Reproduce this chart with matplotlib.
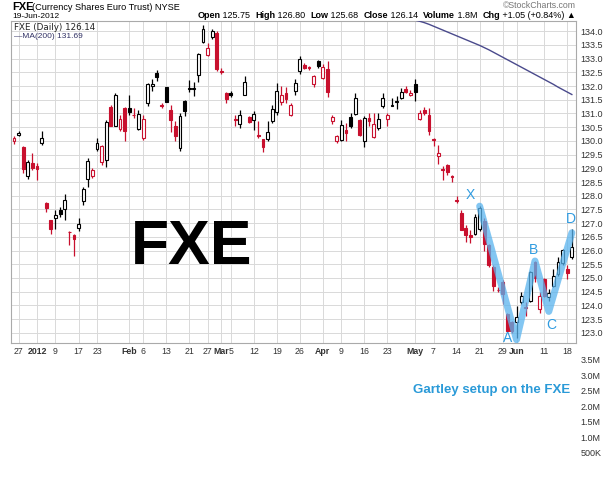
import numpy as np
import pandas as pd
import matplotlib
matplotlib.use("Agg")
import matplotlib.pyplot as plt

plt.rcParams['font.family'] = ['Liberation Sans', 'DejaVu Sans']

holidays = ["2011-12-26", "2012-01-02", "2012-01-16", "2012-02-20", "2012-04-06", "2012-05-28"]
dates = [d for d in pd.bdate_range("2011-12-23", "2012-06-19") if d.strftime("%Y-%m-%d") not in holidays]

opens = [130.0,130.2,129.76,128.73,129.2,129.1,129.94,127.72,127.1,127.2,127.47,127.53,126.68,126.58,126.84,127.82,128.6,128.73,129.71,129.24,
         129.3,131.24,130.55,130.43,131.2,131.2,130.93,130.43,130.1,131.38,132.0,132.49,131.3,131.96,131.14,130.55,129.73,131.45,131.9,131.88,
         132.39,133.61,133.13,133.77,133.95,132.54,131.73,131.75,130.78,130.61,131.69,130.86,130.75,130.2,130.06,130.06,130.71,131.04,131.41,131.75,
         130.96,131.81,132.55,132.77,132.68,132.09,132.91,132.3,132.63,130.71,129.98,130.04,130.4,130.87,130.99,130.77,129.98,130.82,130.14,130.47,
         131.26,130.8,131.28,131.42,131.57,131.9,131.69,132.08,130.8,131.12,130.96,130.04,129.46,128.94,129.12,128.7,127.82,127.37,126.84,126.56,
         126.62,126.8,127.08,126.19,125.39,124.56,124.84,123.68,123.38,123.38,124.11,123.92,124.17,125.6,123.87,124.97,124.29,124.72,125.15,125.54,
         125.33,125.75]
highs = [130.16,130.35,129.8,129.3,129.55,129.2,130.35,127.78,127.1,127.47,127.6,128.08,126.73,126.6,127.17,128.33,129.37,129.0,130.1,129.86,
         130.77,131.32,131.73,130.96,131.24,131.69,131.2,131.14,130.96,132.12,132.24,132.6,131.38,131.96,131.32,130.71,131.02,131.5,132.22,132.14,
         133.22,134.22,133.58,134.07,134.01,132.67,131.78,131.81,130.96,131.14,132.36,130.92,131.08,130.71,130.06,130.71,131.32,132.11,131.99,131.97,
         131.38,132.24,133.1,132.83,132.72,132.39,132.94,132.79,132.91,130.96,130.22,130.77,130.65,131.02,131.75,130.8,130.9,131.02,131.02,131.02,
         131.75,131.02,131.57,131.63,131.93,132.0,131.87,132.24,131.14,131.23,131.2,130.1,129.86,129.09,129.16,128.75,128.0,127.47,126.92,126.74,
         127.35,127.62,127.17,126.25,125.46,124.66,124.93,123.74,123.44,123.99,124.48,124.11,125.27,125.62,124.48,125.0,124.6,125.33,125.76,126.07,
         125.46,126.8]
lows = [129.9,130.17,128.82,128.6,128.94,128.57,129.85,127.4,126.6,126.8,127.23,127.13,126.19,125.82,126.7,127.66,128.33,128.63,129.64,129.12,
        129.06,130.53,130.53,130.37,129.98,130.96,130.83,130.41,130.04,131.26,131.81,132.18,131.2,131.42,130.34,129.98,129.64,130.9,131.77,131.65,
        132.14,133.58,133.09,133.71,132.55,132.42,131.38,131.6,130.53,130.47,131.69,130.65,130.41,130.1,129.61,129.98,130.65,130.96,131.32,131.38,
        130.9,131.69,132.42,132.63,132.6,131.97,132.67,132.24,131.6,130.63,129.94,129.98,129.98,130.47,130.96,130.19,129.77,130.53,130.09,130.4,
        131.2,130.53,131.26,131.16,131.53,131.75,131.65,131.45,130.75,130.96,130.22,129.82,129.16,128.57,128.76,128.5,127.72,126.74,126.31,126.27,
        126.56,126.7,126.0,125.4,124.54,124.48,124.05,123.05,123.0,122.83,124.05,123.62,124.11,124.85,123.71,124.3,124.15,124.66,125.09,125.46,
        124.97,125.68]
closes = [130.1,130.3,128.97,129.24,129.02,128.98,130.1,127.57,126.8,127.28,127.32,127.86,126.66,126.41,126.96,128.23,129.27,128.92,129.92,129.83,
          130.69,130.55,131.69,130.8,130.37,131.04,130.93,130.99,130.8,132.06,132.08,132.33,131.28,131.42,130.77,130.16,130.92,131.1,131.91,131.92,
          133.18,134.07,133.4,134.01,132.63,132.52,131.51,131.66,130.77,130.93,132.14,130.67,130.99,130.18,129.77,130.34,131.16,131.81,131.69,131.54,
          131.32,132.12,133.0,132.67,132.66,132.36,132.73,132.7,131.77,130.87,130.16,130.59,130.3,130.53,131.57,130.22,130.83,130.71,130.63,130.78,
          131.57,130.96,131.3,131.44,131.79,131.78,131.75,131.79,131.02,131.0,130.35,130.03,129.55,128.93,128.88,128.68,127.8,126.76,126.56,126.5,
          127.23,127.55,126.25,125.46,124.72,124.55,124.42,123.07,123.05,123.56,124.36,123.93,125.21,125.0,124.36,124.35,124.47,125.09,125.58,126.03,
          125.17,126.14]

ma_start = 85
ma200 = [134.5,134.45,134.4,134.36,134.31,134.25,134.18,134.11,134.04,133.97,133.9,133.83,133.76,133.69,133.62,133.55,133.48,
         133.4,133.32,133.23,133.14,133.05,132.96,132.87,132.78,132.69,132.6,132.51,132.42,132.33,132.24,132.15,132.06,131.96,131.87,
         131.78,131.69]

gartley_labels = ["X", "A", "B", "C", "D"]
gartley_dates = ["2012-05-21", "2012-06-01", "2012-06-07", "2012-06-12", "2012-06-19"]
gartley_prices = [127.62, 122.75, 125.62, 123.78, 126.65]

tick_dates = ["2011-12-27","2012-01-03","2012-01-09","2012-01-17","2012-01-23","2012-02-01","2012-02-06","2012-02-13",
              "2012-02-21","2012-02-27","2012-03-01","2012-03-05","2012-03-12","2012-03-19","2012-03-26","2012-04-02",
              "2012-04-09","2012-04-16","2012-04-23","2012-05-01","2012-05-07","2012-05-14","2012-05-21","2012-05-29",
              "2012-06-01","2012-06-11","2012-06-18"]
tick_labels = ["27","2012","9","17","23","Feb","6","13","21","27","Mar","5","12","19","26","Apr","9","16","23","May","7",
               "14","21","29","Jun","11","18"]
bold_ticks = {"2012","Feb","Mar","Apr","May","Jun"}

price_ticks = np.arange(123.0, 134.01, 0.5)
vol_ticks = [0.5e6, 1.0e6, 1.5e6, 2.0e6, 2.5e6, 3.0e6, 3.5e6]
vol_labels = ["500K", "1.0M", "1.5M", "2.0M", "2.5M", "3.0M", "3.5M"]

date_idx = {d.strftime("%Y-%m-%d"): i for i, d in enumerate(dates)}
n = len(opens)

W, H = 610, 480
fig = plt.figure(figsize=(6.1, 4.8), dpi=100)

vax = fig.add_axes([11 / W, 1 - 468 / H, (576 - 11) / W, (468 - 355) / H])
vax.patch.set_visible(False)
vax.set_xlim(-0.65, 121.9)
vax.set_ylim(0, 3.65e6)
vax.set_xticks([])
vax.set_yticks(vol_ticks)
vax.set_yticklabels(vol_labels, fontsize=6.5, color="#333333")
vax.yaxis.tick_right()
vax.tick_params(length=0, pad=3)
for s in vax.spines.values():
    s.set_visible(False)
vax.text(0.85, 0.69, "Gartley setup on the FXE", transform=vax.transAxes, fontsize=9.5, fontweight="bold",
         color="#2a9ad8", ha="center", va="center")

ax = fig.add_axes([11 / W, 1 - 343 / H, (576 - 11) / W, (343 - 21) / H])
ax.set_xlim(-0.65, 121.9)
ax.set_ylim(122.63, 134.37)

RED = "#c8102e"
for i in range(n):
    o, h, l, c = opens[i], highs[i], lows[i], closes[i]
    prev = closes[i - 1] if i > 0 else c + 1
    col = RED if c < prev else "black"
    hollow = c >= o
    ax.vlines(i, l, h, color=col, lw=0.9, zorder=3)
    bot = min(o, c)
    hgt = max(abs(c - o), 0.03)
    ax.bar(i, hgt, bottom=bot, width=0.62, facecolor="white" if hollow else col,
           edgecolor=col, lw=0.8, zorder=4)

ax.plot(np.arange(ma_start, ma_start + len(ma200)), ma200, color="#4a4a8c", lw=1.0, zorder=5)

gx = [date_idx[d] for d in gartley_dates]
ax.plot(gx, gartley_prices, color="#5ab4ee", lw=5, alpha=0.75, zorder=6, solid_capstyle="round", solid_joinstyle="round")
offs = {"X": (-2.0, 0.4), "A": (-1.9, 0.05), "B": (-0.4, 0.4), "C": (0.5, -0.5), "D": (-0.3, 0.5)}
for lab, gxi, gp in zip(gartley_labels, gx, gartley_prices):
    dx, dy = offs[lab]
    ax.text(gxi + dx, gp + dy, lab, color="#2f9be0", fontsize=10, ha="center", va="center", zorder=7)

ax.text(38.6, 126.1, "FXE", fontsize=45, fontweight="bold", ha="center", va="center", color="black")

tpos = [date_idx[d] for d in tick_dates]
ax.set_xticks(tpos)
ax.set_xticklabels(tick_labels)
for t in ax.get_xticklabels():
    t.set_fontsize(6.3)
    t.set_color("#333333")
    if t.get_text() in bold_ticks:
        t.set_fontweight("bold")
ax.set_yticks(price_ticks)
ax.set_yticklabels([f"{v:.1f}" for v in price_ticks], fontsize=6.5, color="#333333")
ax.yaxis.tick_right()
ax.tick_params(length=0, pad=3)
ax.grid(True, color="#d9d9d9", lw=0.7)
ax.set_axisbelow(True)
for s in ax.spines.values():
    s.set_color("#aaaaaa")
    s.set_linewidth(0.8)

ax.text(0.005, 0.995, "FXE (Daily) 126.14", transform=ax.transAxes, fontsize=6.3, family="DejaVu Sans",
        va="top", ha="left", color="#222222")
ax.text(0.005, 0.962, "—MA(200) 131.69", transform=ax.transAxes, fontsize=6, va="top", ha="left", color="#333366")

fig.text(12 / W, 1 - 7 / H, "FXE", fontsize=8, fontweight="bold", va="center")
fig.text(32 / W, 1 - 7 / H, "(Currency Shares Euro Trust) NYSE", fontsize=6.6, va="center")
fig.text(12 / W, 1 - 17 / H, "19-Jun-2012", fontsize=6.0, va="center")
fig.text(576 / W, 1 - 6 / H, "©StockCharts.com", fontsize=6.3, color="#777777", ha="right", va="center")
parts = [("Open", True), (" 125.75  ", False), ("High", True), (" 126.80  ", False), ("Low", True), (" 125.68  ", False),
         ("Close", True), (" 126.14  ", False), ("Volume", True), (" 1.8M  ", False), ("Chg", True), (" +1.05 (+0.84%) ▲", False)]
xpos = 576 / W
renderer = fig.canvas.get_renderer()
for txt, b in reversed(parts):
    t = fig.text(xpos, 1 - 16 / H, txt, fontsize=6.5, fontweight="bold" if b else "normal", va="center", ha="right",
                 family=["Liberation Sans", "DejaVu Sans"])
    bb = t.get_window_extent(renderer=renderer)
    xpos -= bb.width / W

fig.savefig("out.png", dpi=100, facecolor="white")
